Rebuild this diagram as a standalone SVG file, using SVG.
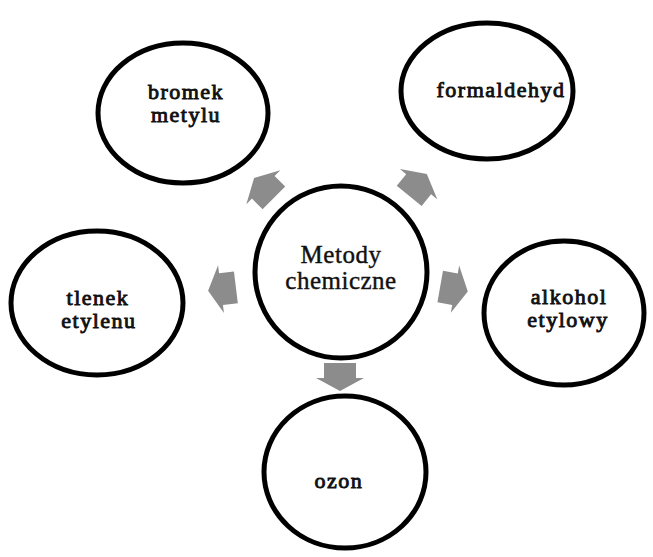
<svg xmlns="http://www.w3.org/2000/svg" width="653" height="557" viewBox="0 0 653 557">
<style>
.n{fill:#fff;stroke:#000;stroke-width:5}
.t{font-family:"Liberation Serif","Times New Roman",serif;font-size:22px;letter-spacing:1.5px;text-anchor:middle;fill:#111;stroke:#111;stroke-width:0.9}
.c{font-family:"Liberation Serif","Times New Roman",serif;font-size:25px;letter-spacing:0.5px;text-anchor:middle;fill:#111;stroke:#111;stroke-width:0.4}
.a{fill:#8c8c8c}
</style>
<defs>
<path id="arr" d="M-14,-16 L1,-16 L1,-24 L14,0 L1,24 L1,16 L-14,16 Z"/>
</defs>
<rect width="653" height="557" fill="#fff"/>
<g id="connectors" class="a">
<use href="#arr" transform="translate(340,377) rotate(90)"/>
<use href="#arr" transform="translate(222,289) rotate(173)"/>
<use href="#arr" transform="translate(454,289) rotate(10)"/>
<use href="#arr" transform="translate(264,188) rotate(-135)"/>
<use href="#arr" transform="translate(418,185) rotate(-51)"/>
</g>
<g id="center"><circle class="n" cx="341" cy="272" r="86"/><text class="c" x="341" y="263">Metody</text><text class="c" x="341" y="289">chemiczne</text></g>
<g id="bromek"><ellipse class="n" cx="183" cy="113" rx="85" ry="70"/><text class="t" x="186" y="99">bromek</text><text class="t" x="186" y="122">metylu</text></g>
<g id="formaldehyd"><ellipse class="n" cx="487" cy="91" rx="86" ry="68"/><text class="t" x="501" y="97">formaldehyd</text></g>
<g id="tlenek"><ellipse class="n" cx="97" cy="303" rx="86" ry="72"/><text class="t" x="98" y="305">tlenek</text><text class="t" x="99" y="328">etylenu</text></g>
<g id="alkohol"><ellipse class="n" cx="564" cy="313" rx="80" ry="72"/><text class="t" x="569" y="304">alkohol</text><text class="t" x="568" y="327">etylowy</text></g>
<g id="ozon"><ellipse class="n" cx="345" cy="472" rx="81" ry="76"/><text class="t" x="339" y="488">ozon</text></g>
</svg>
